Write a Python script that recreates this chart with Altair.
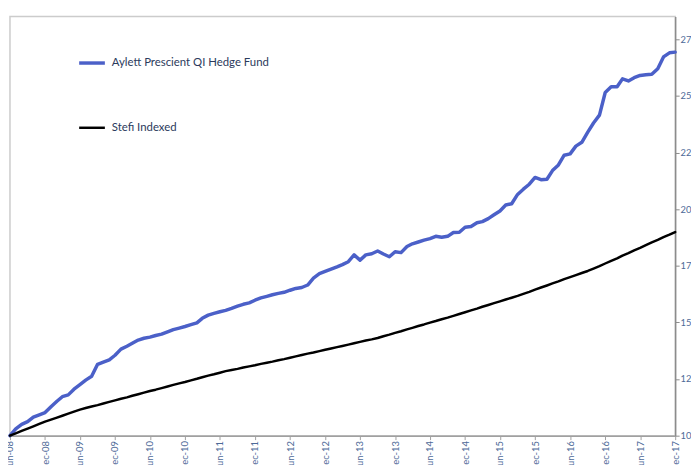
import altair as alt
import pandas as pd

series_names = ["Aylett Prescient QI Hedge Fund", "Stefi Indexed"]
series_colors = ["#4B60C8", "#000000"]

dates = [d.strftime("%Y-%m-%d") for d in pd.date_range("2008-06-01", "2017-12-01", freq="MS")]

aylett = [
    10.00, 10.30, 10.50, 10.62, 10.82, 10.92, 11.02, 11.28, 11.52, 11.72,
    11.80, 12.05, 12.25, 12.45, 12.62, 13.15, 13.25, 13.35, 13.55, 13.82,
    13.95, 14.08, 14.22, 14.30, 14.35, 14.42, 14.48, 14.58, 14.68, 14.75,
    14.82, 14.90, 14.98, 15.18, 15.32, 15.40, 15.47, 15.53, 15.62, 15.72,
    15.80, 15.86, 15.98, 16.08, 16.15, 16.22, 16.28, 16.33, 16.42, 16.50,
    16.54, 16.65, 16.95, 17.15, 17.25, 17.35, 17.45, 17.55, 17.68, 17.98,
    17.75, 17.98, 18.03, 18.15, 18.02, 17.90, 18.12, 18.08, 18.35, 18.47,
    18.55, 18.63, 18.70, 18.80, 18.76, 18.80, 18.97, 18.98, 19.20, 19.23,
    19.40, 19.45, 19.58, 19.75, 19.92, 20.18, 20.24, 20.65, 20.88, 21.10,
    21.40, 21.30, 21.32, 21.70, 21.95, 22.38, 22.44, 22.78, 22.95, 23.40,
    23.80, 24.15, 25.15, 25.40, 25.40, 25.75, 25.66, 25.80, 25.90, 25.93,
    25.95, 26.20, 26.72, 26.90, 26.93,
]

stefi = [
    10.00, 10.10, 10.21, 10.31, 10.41, 10.52, 10.62, 10.71, 10.80, 10.88,
    10.97, 11.06, 11.15, 11.22, 11.29, 11.35, 11.42, 11.49, 11.56, 11.63,
    11.69, 11.76, 11.83, 11.90, 11.97, 12.03, 12.10, 12.17, 12.24, 12.31,
    12.37, 12.44, 12.51, 12.58, 12.65, 12.71, 12.78, 12.85, 12.90, 12.95,
    13.01, 13.06, 13.11, 13.17, 13.22, 13.27, 13.33, 13.38, 13.44, 13.50,
    13.56, 13.62, 13.67, 13.73, 13.79, 13.85, 13.91, 13.96, 14.02, 14.08,
    14.14, 14.20, 14.25, 14.31, 14.39, 14.46, 14.54, 14.61, 14.69, 14.76,
    14.84, 14.91, 14.99, 15.06, 15.14, 15.21, 15.29, 15.37, 15.45, 15.53,
    15.61, 15.69, 15.77, 15.85, 15.93, 16.01, 16.09, 16.17, 16.26, 16.35,
    16.45, 16.54, 16.63, 16.72, 16.81, 16.91, 17.00, 17.09, 17.18, 17.27,
    17.37, 17.48, 17.60, 17.72, 17.83, 17.95, 18.06, 18.18, 18.29, 18.41,
    18.53, 18.64, 18.76, 18.87, 18.99,
]

y_ticks = [10, 12.5, 15, 17.5, 20, 22.5, 25, 27.5]
x_tick_months = [(2008 + (5 + 6 * i) // 12, (5 + 6 * i) % 12 + 1) for i in range(20)]
x_tick_months = [ym for ym in x_tick_months if (ym[0], ym[1]) <= (2017, 12)]

rows = []
for d, a, s in zip(dates, aylett, stefi):
    rows.append({"date": d, "series": series_names[0], "value": a})
    rows.append({"date": d, "series": series_names[1], "value": s})
df = pd.DataFrame(rows)

axis_label_color = "#4e6a98"

chart = alt.Chart(df).mark_line(strokeJoin="round", strokeCap="round").encode(
    x=alt.X(
        "date:T",
        title=None,
        scale=alt.Scale(
            type="utc",
            domain=[alt.DateTime(year=2008, month=6, date=1, utc=True),
                    alt.DateTime(year=2017, month=12, date=1, utc=True)],
        ),
        axis=alt.Axis(
            values=[alt.DateTime(year=y, month=m, date=1, utc=True) for y, m in x_tick_months],
            format="%b-%y",
            labelAngle=270,
            labelFont="Lato",
            labelFontSize=9.5,
            labelColor=axis_label_color,
            labelPadding=1,
            tickSize=4,
            tickColor="#a0a0a0",
            domainColor="#a0a0a0",
            domainWidth=1.5,
            grid=False,
            labelOverlap=False,
            labelFlush=False,
        ),
    ),
    y=alt.Y(
        "value:Q",
        title=None,
        scale=alt.Scale(domain=[10, 28.5], nice=False, zero=False),
        axis=alt.Axis(
            orient="right",
            values=y_ticks,
            labelExpr="floor(datum.value)",
            labelFont="Lato",
            labelFontSize=9.5,
            labelColor=axis_label_color,
            labelPadding=1,
            tickSize=4,
            tickColor="#8c8c8c",
            domainColor="#8c8c8c",
            domainWidth=1.5,
            grid=False,
            labelFlush=False,
        ),
    ),
    color=alt.Color(
        "series:N",
        scale=alt.Scale(domain=series_names, range=series_colors),
        legend=alt.Legend(
            title=None,
            orient="none",
            legendX=68,
            legendY=32,
            direction="vertical",
            symbolType="stroke",
            symbolSize=676,
            symbolStrokeWidth=3,
            labelFont="Lato",
            labelFontSize=11.5,
            labelColor="#2b3a5c",
            labelOffset=5,
            rowPadding=44,
            padding=0,
            labelLimit=400,
        ),
    ),
    strokeWidth=alt.StrokeWidth(
        "series:N",
        scale=alt.Scale(domain=series_names, range=[3.5, 2.5]),
        legend=None,
    ),
).properties(
    width=673,
    height=424,
    padding={"left": 2, "top": 6, "right": 16, "bottom": 27},
    autosize=alt.AutoSizeParams(type="none"),
).configure_view(
    stroke="#cccccc",
    strokeWidth=1.5,
)

chart.save("out.html", embed_options={"renderer": "svg", "actions": False})
